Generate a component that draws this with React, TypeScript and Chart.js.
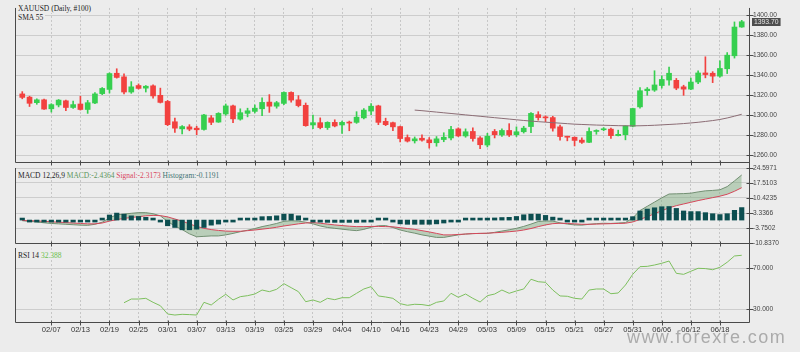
import React, { useEffect, useRef } from "react";
import { Chart, registerables } from "chart.js";

Chart.register(...registerables);

// ---------- data ----------
const dateTicks = ["02/07", "02/13", "02/19", "02/25", "03/01", "03/07", "03/13", "03/19", "03/25", "03/29", "04/04", "04/10", "04/16", "04/23", "04/29", "05/03", "05/09", "05/15", "05/21", "05/27", "05/31", "06/06", "06/12", "06/18"];
const tickIndex = [4, 8, 12, 16, 20, 24, 28, 32, 36, 40, 44, 48, 52, 56, 60, 64, 68, 72, 76, 80, 84, 88, 92, 96];
const priceTicks = [1260, 1280, 1300, 1320, 1340, 1360, 1380, 1400];
const macdTicks = [24.5971, 17.5103, 10.4235, 3.3366, -3.7502, -10.837];
const rsiTicks = [30, 70];

const open = [1321.4, 1318.2, 1312.6, 1315.5, 1306.5, 1310.3, 1314.5, 1307.8, 1311.3, 1305.8,
  1312.3, 1321.7, 1325.9, 1342.1, 1338.5, 1323.3, 1329.8, 1327.2, 1329.5, 1320.0,
  1313.9, 1293.5, 1286.4, 1288.4, 1287.1, 1285.8, 1297.4, 1293.2, 1301.3, 1309.4,
  1296.1, 1301.9, 1303.9, 1306.5, 1313.2, 1309.1, 1311.9, 1322.9, 1315.5, 1310.0,
  1290.3, 1292.6, 1287.7, 1292.9, 1290.3, 1292.9, 1292.9, 1297.4, 1304.2, 1309.4,
  1293.9, 1292.6, 1288.7, 1277.7, 1274.4, 1277.0, 1275.4, 1272.5, 1275.7, 1277.3,
  1286.4, 1279.3, 1283.8, 1277.3, 1270.2, 1283.8, 1280.3, 1284.8, 1280.6, 1283.5,
  1288.7, 1300.6, 1298.1, 1297.7, 1288.4, 1279.0, 1278.0, 1275.1, 1272.9, 1283.8,
  1285.5, 1286.1, 1279.6, 1280.6, 1289.0, 1308.4, 1324.6, 1325.2, 1329.8, 1335.3,
  1335.0, 1328.5, 1326.2, 1333.3, 1342.4, 1342.1, 1339.2, 1346.6, 1359.6, 1388.4];
const high = [1323.7, 1319.1, 1316.5, 1316.2, 1311.6, 1315.8, 1315.2, 1314.2, 1319.1, 1314.9,
  1322.7, 1327.8, 1342.5, 1346.6, 1341.4, 1333.7, 1331.4, 1329.8, 1330.4, 1327.2,
  1314.9, 1297.1, 1289.6, 1290.6, 1289.0, 1301.0, 1299.7, 1302.6, 1311.3, 1310.1,
  1306.5, 1307.1, 1310.4, 1317.5, 1320.7, 1313.9, 1323.6, 1323.6, 1319.7, 1312.3,
  1300.3, 1297.4, 1293.5, 1295.5, 1294.2, 1294.2, 1303.6, 1306.8, 1311.6, 1310.1,
  1297.1, 1293.2, 1289.3, 1280.3, 1278.3, 1280.3, 1277.7, 1278.7, 1282.5, 1289.0,
  1287.4, 1286.4, 1287.4, 1278.7, 1281.9, 1285.8, 1286.4, 1291.6, 1288.4, 1289.0,
  1302.6, 1303.6, 1299.4, 1299.0, 1290.3, 1279.0, 1278.3, 1277.3, 1287.4, 1285.5,
  1287.7, 1287.1, 1285.1, 1289.6, 1307.1, 1327.8, 1327.8, 1344.6, 1339.5, 1348.2,
  1336.9, 1330.1, 1337.2, 1344.6, 1358.6, 1343.7, 1354.6, 1362.8, 1393.5, 1395.1];
const low = [1316.5, 1308.8, 1311.0, 1305.8, 1303.2, 1308.4, 1304.5, 1306.8, 1305.2, 1301.9,
  1311.6, 1320.7, 1322.3, 1337.2, 1321.4, 1322.0, 1326.2, 1323.3, 1317.2, 1312.3,
  1289.6, 1282.9, 1281.3, 1284.5, 1280.6, 1285.1, 1290.6, 1292.9, 1300.0, 1292.6,
  1295.1, 1298.4, 1302.3, 1299.7, 1302.9, 1307.1, 1310.7, 1313.2, 1308.4, 1289.0,
  1286.7, 1286.4, 1285.8, 1288.4, 1281.9, 1284.5, 1291.9, 1296.4, 1300.6, 1290.6,
  1289.6, 1284.5, 1273.2, 1273.2, 1272.2, 1274.1, 1267.1, 1269.0, 1273.5, 1275.4,
  1278.7, 1278.0, 1274.1, 1266.5, 1268.3, 1277.3, 1278.7, 1278.7, 1278.7, 1282.2,
  1282.5, 1295.1, 1293.5, 1284.1, 1275.1, 1274.4, 1269.3, 1271.8, 1272.5, 1281.0,
  1284.5, 1276.7, 1279.3, 1275.4, 1288.4, 1307.1, 1320.0, 1323.9, 1327.2, 1330.1,
  1325.6, 1320.0, 1325.6, 1331.7, 1337.5, 1332.7, 1338.2, 1341.8, 1357.3, 1388.1];
const close = [1317.9, 1312.0, 1315.5, 1306.2, 1310.7, 1315.2, 1307.8, 1310.7, 1305.8, 1312.6,
  1321.4, 1326.9, 1341.8, 1337.9, 1323.3, 1328.5, 1326.9, 1329.1, 1319.4, 1312.9,
  1290.6, 1287.1, 1288.7, 1286.1, 1285.5, 1300.3, 1292.9, 1301.9, 1309.4, 1296.4,
  1302.6, 1304.5, 1307.1, 1312.9, 1309.1, 1312.6, 1322.9, 1315.2, 1309.7, 1289.6,
  1292.6, 1287.7, 1292.9, 1289.3, 1292.9, 1292.2, 1298.1, 1305.2, 1309.1, 1292.9,
  1290.6, 1288.4, 1276.7, 1274.1, 1276.4, 1275.1, 1272.5, 1276.4, 1278.0, 1285.8,
  1279.3, 1283.5, 1276.7, 1270.5, 1279.0, 1280.6, 1284.8, 1280.3, 1283.5, 1287.1,
  1301.9, 1297.7, 1297.4, 1287.1, 1278.7, 1278.0, 1274.8, 1272.9, 1283.8, 1284.8,
  1286.4, 1279.6, 1280.9, 1289.3, 1306.8, 1324.6, 1326.2, 1330.4, 1335.9, 1342.1,
  1327.2, 1326.2, 1333.3, 1342.4, 1340.8, 1339.2, 1346.9, 1360.2, 1388.4, 1393.7];

const smaStart = 54;
const sma55 = [1305.2, 1304.6, 1303.9, 1303.2, 1302.5, 1301.8, 1301.1, 1300.4, 1299.7, 1299.0,
  1298.3, 1297.6, 1296.9, 1296.2, 1295.5, 1294.8, 1294.2, 1293.6, 1293.1, 1292.6,
  1292.1, 1291.6, 1291.1, 1290.8, 1290.5, 1290.2, 1290.0, 1289.8, 1289.6, 1289.5,
  1289.4, 1289.5, 1289.7, 1290.0, 1290.4, 1290.8, 1291.2, 1291.7, 1292.3, 1293.0,
  1293.8, 1294.7, 1295.8, 1297.3, 1299.1, 1301.0];

const macd = [-0.3, -0.6, -0.9, -1.3, -1.6, -1.8, -2.0, -2.2, -2.4, -2.5,
  -2.0, -1.0, 1.0, 2.5, 2.8, 3.2, 3.5, 3.5, 3.0, 2.0,
  -0.7, -2.8, -4.5, -6.5, -7.9, -7.7, -7.5, -7.5, -7.0, -6.3,
  -5.5, -4.8, -4.0, -3.1, -2.4, -1.6, -0.6, -0.3, -0.5, -1.0,
  -1.8, -2.8, -3.5, -3.9, -4.3, -4.7, -5.0, -4.4, -3.4, -2.7,
  -2.6, -3.5, -4.7, -5.5, -6.2, -7.0, -7.6, -8.2, -8.2, -7.6,
  -7.0, -6.6, -6.4, -6.3, -6.3, -5.8, -5.2, -4.6, -3.9, -3.0,
  -1.9, -0.7, -0.4, -0.5, -1.3, -1.9, -2.3, -2.4, -2.0, -1.7,
  -1.5, -1.6, -1.4, -1.2, 1.0, 4.5, 6.5, 8.5, 10.5, 12.3,
  12.4, 12.5, 12.7, 13.3, 13.8, 14.0, 14.3, 15.8, 18.5, 21.3];
const signal = [-0.2, -0.3, -0.4, -0.6, -0.8, -1.0, -1.2, -1.4, -1.6, -1.8,
  -1.8, -1.4, -0.5, 0.2, 0.8, 1.2, 1.6, 2.0, 2.2, 2.1,
  1.5, 0.5, -0.5, -1.8, -3.0, -3.9, -4.5, -4.9, -5.2, -5.3,
  -5.3, -5.0, -4.7, -4.3, -3.9, -3.4, -2.8, -2.3, -1.8, -1.4,
  -1.2, -1.5, -1.9, -2.3, -2.6, -2.9, -3.1, -3.1, -3.0, -3.0,
  -3.1, -3.2, -3.6, -4.0, -4.4, -5.0, -5.6, -6.3, -7.0, -7.0,
  -6.8, -6.6, -6.4, -6.3, -6.2, -6.0, -5.8, -5.5, -5.2, -4.7,
  -4.0, -3.1, -2.3, -1.7, -1.5, -1.6, -1.8, -2.0, -2.0, -1.9,
  -1.8, -1.7, -1.6, -1.5, -0.9, 0.3, 1.6, 3.0, 4.4, 5.8,
  6.8, 7.6, 8.4, 9.2, 9.9, 10.6, 11.3, 12.2, 13.6, 15.3];
const histogram = [0.1, -0.5, -0.6, -0.7, -0.7, -0.7, -0.7, -0.7, -0.7, -0.6,
  -0.2, 0.3, 2.4, 3.3, 2.8, 2.0, 1.7, 1.3, 0.4, -0.3,
  -2.7, -3.5, -4.6, -4.6, -4.3, -3.5, -2.4, -1.9, -0.5, -0.3,
  0.1, 0.3, 0.6, 1.6, 1.7, 2.0, 2.8, 2.8, 2.0, 0.5,
  -0.4, -1.0, -1.1, -1.1, -1.1, -1.1, -1.1, -1.0, -0.8, 0.4,
  0.6, -0.6, -1.8, -2.0, -2.0, -2.0, -2.0, -1.8, -1.4, -0.3,
  -0.2, 0.1, 0.2, 0.3, 0.3, 1.0, 1.2, 1.3, 1.7, 2.5,
  2.8, 2.8, 2.2, 1.4, 0.3, -0.5, -0.6, -0.4, 0.1, 0.2,
  0.2, 0.1, 0.2, 0.4, 1.6, 4.3, 5.2, 5.8, 6.3, 6.4,
  5.5, 4.3, 4.0, 4.0, 3.5, 3.0, 2.6, 3.0, 4.6, 5.9];

const rsiStart = 14;
const rsi14 = [36.4, 40.0, 40.0, 40.7, 36.8, 33.5, 25.4, 24.4, 25.1, 24.8,
  24.4, 36.8, 34.2, 39.8, 44.6, 39.1, 42.3, 43.3, 44.9, 48.8,
  47.2, 49.5, 55.0, 51.1, 47.2, 37.4, 39.1, 36.8, 40.7, 39.4,
  41.3, 41.3, 45.6, 49.8, 52.1, 43.0, 42.0, 40.7, 35.5, 33.9,
  34.9, 34.6, 33.5, 36.8, 38.1, 45.6, 41.7, 44.9, 40.7, 37.1,
  43.3, 44.9, 48.8, 45.6, 47.9, 49.8, 59.3, 56.9, 56.3, 48.8,
  43.0, 42.7, 40.7, 40.0, 48.8, 49.8, 49.8, 45.2, 45.9, 53.7,
  64.1, 71.6, 71.9, 73.2, 74.9, 77.1, 65.1, 64.1, 67.1, 70.0,
  69.7, 68.6, 71.0, 75.9, 82.0, 82.7];

const lastPrice = "1393.70";

// ---------- styles ----------
const GREEN = "#36cf4f";
const RED = "#f2413f";
const AXIS = "#4a4a4a";
const GRID_H = "#cdcdcd";
const GRID_V = "#c6c6c6";
const BG = "#ececec";
const TICK_FONT = { size: 6.6, family: "'Liberation Sans', Arial, sans-serif" };

const framePlugin = {
  id: "frame",
  afterDraw(chart: any) {
    const { ctx, chartArea: a } = chart;
    const xs = chart.scales.x;
    const ys = chart.scales.y;
    const ext = chart.options.plugins.frame?.extendTop || 0;
    ctx.save();
    ctx.strokeStyle = AXIS;
    ctx.lineWidth = 1;
    ctx.beginPath();
    const l = Math.round(a.left) + 0.5;
    const r = Math.round(a.right) + 0.5;
    const b = Math.round(a.bottom) + 0.5;
    ctx.moveTo(l, a.top);
    ctx.lineTo(l, b);
    ctx.lineTo(r, b);
    ctx.lineTo(r, a.top - ext);
    xs.ticks.forEach((t: any) => {
      const px = Math.round(xs.getPixelForValue(t.value)) + 0.5;
      ctx.moveTo(px, b - 2);
      ctx.lineTo(px, b + 3);
    });
    ys.ticks.forEach((t: any) => {
      const py = Math.round(ys.getPixelForValue(t.value)) + 0.5;
      ctx.moveTo(r - 3, py);
      ctx.lineTo(r + 4, py);
    });
    ctx.stroke();
    ctx.restore();
  },
};

const badgePlugin = {
  id: "badge",
  afterDraw(chart: any) {
    const opts = chart.options.plugins.badge;
    if (!opts) return;
    const { ctx, chartArea: a } = chart;
    const y = chart.scales.y.getPixelForValue(opts.value);
    ctx.save();
    ctx.font = "6.8px 'Liberation Sans', Arial, sans-serif";
    const w = ctx.measureText(opts.text).width + 4;
    ctx.fillStyle = "#4d4d4d";
    ctx.fillRect(a.right + 3, Math.round(y) - 4, w, 8);
    ctx.fillStyle = "#e6e6e6";
    ctx.textBaseline = "middle";
    ctx.fillText(opts.text, a.right + 5, Math.round(y) + 0.5);
    ctx.restore();
  },
};

function xScale(height: number, showLabels: boolean) {
  return {
    type: "linear",
    min: -1,
    max: 100,
    offset: false,
    afterBuildTicks: (axis: any) => {
      axis.ticks = tickIndex.map((v) => ({ value: v }));
    },
    afterFit: (s: any) => {
      s.height = height;
    },
    ticks: {
      display: showLabels,
      autoSkip: false,
      maxRotation: 0,
      padding: 3,
      color: "#333",
      font: { size: 7.6, family: "'Liberation Sans', Arial, sans-serif" },
      callback: (_v: any, i: number) => dateTicks[i],
    },
    grid: { color: GRID_V, drawTicks: false, lineWidth: 1, offset: false },
    border: { display: false, dash: [2, 2] },
  };
}

function yScale(min: number, max: number, ticks: number[], digits: number) {
  return {
    position: "right",
    min,
    max,
    afterBuildTicks: (axis: any) => {
      axis.ticks = ticks.map((v) => ({ value: v }));
    },
    afterFit: (s: any) => {
      s.width = 51;
    },
    ticks: {
      autoSkip: false,
      padding: 4,
      color: "#444",
      font: TICK_FONT,
      callback: (v: any) => Number(v).toFixed(digits),
    },
    grid: { color: GRID_H, drawTicks: false, lineWidth: 1 },
    border: { display: false },
  };
}

const idx = close.map((_, i) => i);
const candleColors = idx.map((i) => (close[i] >= open[i] ? GREEN : RED));

function priceConfig(): any {
  return {
    type: "bar",
    data: {
      datasets: [
        {
          type: "line",
          data: sma55.map((v, k) => ({ x: smaStart + k, y: v })),
          borderColor: "#8b6c74",
          borderWidth: 1,
          pointRadius: 0,
          order: 0,
        },
        {
          data: idx.map((i) => ({ x: i, y: [low[i], high[i]] })),
          backgroundColor: candleColors,
          barThickness: 1,
          grouped: false,
          order: 2,
        },
        {
          data: idx.map((i) => ({ x: i, y: [open[i], close[i]] })),
          backgroundColor: candleColors,
          barThickness: 5,
          minBarLength: 1,
          grouped: false,
          order: 1,
        },
      ],
    },
    options: {
      responsive: false,
      animation: false,
      layout: { padding: { left: 15, top: 4, right: 0, bottom: 187 } },
      plugins: {
        legend: { display: false },
        tooltip: { enabled: false },
        badge: { value: close[close.length - 1], text: lastPrice },
      },
      scales: {
        x: xScale(3, false),
        y: yScale(1253.2, 1407.5, priceTicks, 2),
      },
    },
    plugins: [framePlugin, badgePlugin],
  };
}

function macdConfig(): any {
  return {
    type: "bar",
    data: {
      datasets: [
        {
          type: "line",
          data: macd.map((v, i) => ({ x: i, y: v })),
          borderColor: "#728f72",
          borderWidth: 1,
          pointRadius: 0,
          fill: "+1",
          backgroundColor: "rgba(125,170,125,0.45)",
          order: 2,
        },
        {
          type: "line",
          data: signal.map((v, i) => ({ x: i, y: v })),
          borderColor: "#d4475a",
          borderWidth: 1,
          pointRadius: 0,
          fill: false,
          order: 1,
        },
        {
          data: histogram.map((v, i) => ({ x: i, y: v })),
          backgroundColor: "#0c4e50",
          barThickness: 4.5,
          minBarLength: 2,
          grouped: false,
          order: 0,
        },
      ],
    },
    options: {
      responsive: false,
      animation: false,
      layout: { padding: { left: 15, top: 168, right: 0, bottom: 107 } },
      plugins: { legend: { display: false }, tooltip: { enabled: false }, frame: { extendTop: 6 } },
      scales: {
        x: xScale(2, false),
        y: yScale(-10.837, 24.5971, macdTicks, 4),
      },
    },
    plugins: [framePlugin],
  };
}

function rsiConfig(): any {
  return {
    type: "line",
    data: {
      datasets: [
        {
          data: rsi14.map((v, k) => ({ x: rsiStart + k, y: v })),
          borderColor: "#7dbf5e",
          borderWidth: 1,
          pointRadius: 0,
          fill: false,
        },
      ],
    },
    options: {
      responsive: false,
      animation: false,
      layout: { padding: { left: 15, top: 248, right: 0, bottom: 14 } },
      plugins: { legend: { display: false }, tooltip: { enabled: false }, frame: { extendTop: 5 } },
      scales: {
        x: xScale(16, true),
        y: yScale(17.6, 89.8, rsiTicks, 3),
      },
    },
    plugins: [framePlugin],
  };
}

const labelFont: React.CSSProperties = {
  position: "absolute",
  fontFamily: "'Liberation Serif', 'Times New Roman', serif",
  fontSize: "7.5px",
  lineHeight: "9px",
  color: "#222",
  background: BG,
  whiteSpace: "nowrap",
  padding: "0 2px",
};

export default function App() {
  const c1 = useRef<HTMLCanvasElement>(null);
  const c2 = useRef<HTMLCanvasElement>(null);
  const c3 = useRef<HTMLCanvasElement>(null);

  useEffect(() => {
    const charts = [
      new Chart(c1.current as HTMLCanvasElement, priceConfig()),
      new Chart(c2.current as HTMLCanvasElement, macdConfig()),
      new Chart(c3.current as HTMLCanvasElement, rsiConfig()),
    ];
    return () => charts.forEach((c) => c.destroy());
  }, []);

  const canvasStyle: React.CSSProperties = { position: "absolute", left: 0, top: 0, width: 800, height: 352 };

  return (
    <div style={{ position: "fixed", left: 0, top: 0, width: 800, height: 352, background: BG, overflow: "hidden" }}>
      <canvas ref={c1} width={800} height={352} style={canvasStyle} />
      <canvas ref={c2} width={800} height={352} style={canvasStyle} />
      <canvas ref={c3} width={800} height={352} style={canvasStyle} />
      <div style={{ ...labelFont, left: 16, top: 4 }}>XAUUSD (Daily, #100)</div>
      <div style={{ ...labelFont, left: 16, top: 13 }}>SMA 55</div>
      <div style={{ ...labelFont, left: 16, top: 171 }}>
        <span>MACD 12,26,9 </span>
        <span style={{ color: "#5b955b" }}>MACD:-2.4364 </span>
        <span style={{ color: "#d9475c" }}>Signal:-2.3173 </span>
        <span style={{ color: "#3d7373" }}>Histogram:-0.1191</span>
      </div>
      <div style={{ ...labelFont, left: 16, top: 251 }}>
        <span>RSI 14 </span>
        <span style={{ color: "#6abf4b" }}>32.388</span>
      </div>
      <div
        style={{
          position: "absolute",
          left: 627,
          top: 328,
          fontFamily: "'Liberation Sans', Arial, sans-serif",
          fontSize: "18px",
          lineHeight: "18px",
          letterSpacing: "1.4px",
          color: "#ababab",
          whiteSpace: "nowrap",
        }}
      >
        www.forexre.com
      </div>
    </div>
  );
}
